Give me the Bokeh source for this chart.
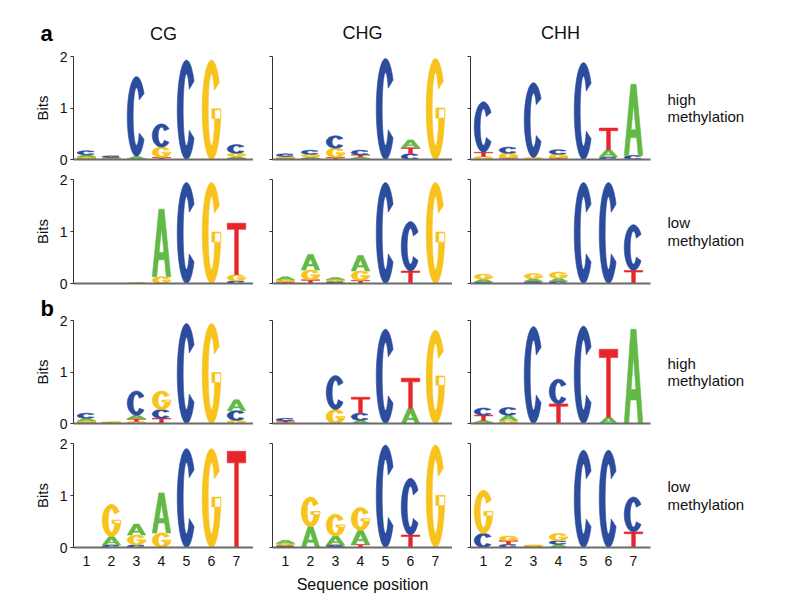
import numpy as np
from bokeh.plotting import figure
from bokeh.layouts import column, row
from bokeh.models import FixedTicker, Range1d, ColumnDataSource, LinearAxis, Title
from bokeh.embed import file_html
from bokeh.resources import INLINE

# ---------------- data (bits per base, positions 1..7) ----------------
POSITIONS = [1, 2, 3, 4, 5, 6, 7]
BASES = ["A", "C", "G", "T"]
CONTEXTS = ["CG", "CHG", "CHH"]
ROW_STATES = ["high", "low", "high", "low"]
PANEL_LETTERS = ["a", None, "b", None]

A_HIGH_CG = {"A": [.04, .01, .05, .01, 0, 0, .04],
             "C": [.08, .03, 1.55, .45, 1.93, 0, .17],
             "G": [.03, .02, 0, .20, 0, 1.93, .06],
             "T": [.02, .01, .01, .03, 0, 0, .02]}
A_HIGH_CHG = {"A": [.02, .03, .01, .03, 0, .15, 0],
              "C": [.05, .08, .24, .09, 1.96, .11, 0],
              "G": [.03, .05, .18, .02, 0, 0, 1.96],
              "T": [.01, .02, .03, .04, 0, .12, 0]}
A_HIGH_CHH = {"A": [0, .01, 0, .01, 0, .14, 1.38],
              "C": [.98, .12, 1.45, .09, 1.88, .05, .08],
              "G": [.06, .09, .04, .07, 0, 0, 0],
              "T": [.08, .02, 0, .02, 0, .42, 0]}
A_LOW_CG = {"A": [0, 0, 0, 1.30, 0, 0, 0],
            "C": [0, 0, .005, 0, 1.94, 0, .05],
            "G": [0, 0, .005, .13, 0, 1.94, .12],
            "T": [0, 0, 0, 0, 0, 0, .99]}
A_LOW_CHG = {"A": [.06, .30, .04, .30, 0, 0, 0],
             "C": [.01, 0, .03, 0, 1.94, .95, 0],
             "G": [.04, .19, .035, .18, 0, 0, 1.94],
             "T": [.02, .07, .01, .06, 0, .24, 0]}
A_LOW_CHH = {"A": [.05, 0, .05, .06, 0, 0, 0],
             "C": [.03, 0, .03, .04, 1.94, 1.94, .88],
             "G": [.10, 0, .10, .12, 0, 0, 0],
             "T": [0, 0, .01, 0, 0, 0, .25]}
B_HIGH_CG = {"A": [.05, .005, .07, 0, 0, 0, .21],
             "C": [.10, .01, .47, .17, 1.94, 0, .19],
             "G": [.03, .01, .04, .36, 0, 1.94, .06],
             "T": [.02, .005, .05, .10, 0, 0, 0]}
B_HIGH_CHG = {"A": [.01, 0, 0, .06, 0, .29, 0],
              "C": [.05, 0, .66, .14, 1.83, 0, 0],
              "G": [.01, 0, .27, 0, 0, 0, 1.81],
              "T": [.03, 0, 0, .31, 0, .59, 0]}
B_HIGH_CHH = {"A": [.04, .10, 0, 0, 0, .12, 1.83],
              "C": [.14, .15, 1.88, .48, 1.89, 0, 0],
              "G": [.02, .06, 0, 0, 0, 0, 0],
              "T": [.10, 0, 0, .38, 0, 1.32, 0]}
B_LOW_CG = {"A": [0, .16, .21, .77, 0, 0, 0],
            "C": [0, .05, .05, 0, 1.90, 0, 0],
            "G": [0, .62, .19, .28, 0, 1.90, 0],
            "T": [0, 0, 0, 0, 0, 0, 1.85]}
B_LOW_CHG = {"A": [.06, .40, .17, .27, 0, 0, 0],
             "C": [.03, 0, .03, 0, 1.97, 1.09, 0],
             "G": [.04, .57, .42, .44, 0, 0, 1.97],
             "T": [.01, 0, .02, .06, 0, .24, 0]}
B_LOW_CHH = {"A": [0, 0, 0, .06, 0, 0, 0],
             "C": [.27, .06, .02, .07, 1.87, 1.87, .67],
             "G": [.83, .09, .03, .14, 0, 0, 0],
             "T": [0, .07, 0, 0, 0, 0, .30]}

PANELS = [[A_HIGH_CG, A_HIGH_CHG, A_HIGH_CHH],
          [A_LOW_CG, A_LOW_CHG, A_LOW_CHH],
          [B_HIGH_CG, B_HIGH_CHG, B_HIGH_CHH],
          [B_LOW_CG, B_LOW_CHG, B_LOW_CHH]]

COLORS = {"A": "#62B946", "C": "#2C4C9E", "G": "#F7C31C", "T": "#E7262B"}
FONT = "Liberation Sans"

# ---------------- letter outlines in a unit box ----------------
def arc_ring(t0, t1, sx, sy, n=80):
    t = np.radians(np.linspace(t0, t1, n))
    ox = 0.5 + 0.5 * np.cos(t)
    oy = 0.5 + 0.5 * np.sin(t)
    ix = 0.5 + (0.5 - sx) * np.cos(t[::-1])
    iy = 0.5 + (0.5 - sy) * np.sin(t[::-1])
    return np.concatenate([ox, ix]), np.concatenate([oy, iy])

def rect(x0, y0, x1, y1):
    return np.array([x0, x1, x1, x0]), np.array([y0, y0, y1, y1])

SHAPES = {
    "A": [[(np.array([0, .36, .64, 1, .76, .67, .33, .24]),
            np.array([0, 1, 1, 0, 0, .25, .25, 0])),
           (np.array([.63, .5, .37]), np.array([.36, .72, .36]))]],
    "C": [[arc_ring(35, 325, 0.32, 0.14)]],
    "G": [[arc_ring(33, 360, 0.32, 0.14)], [rect(0.52, 0.41, 1.0, 0.51)]],
    "T": [[(np.array([.4, .6, .6, 1, 1, 0, 0, .4]),
            np.array([0, 0, .88, .88, 1, 1, .88, .88]))]],
}
LETTER_W = 0.74

def logo_source(data):
    xs, ys, cols = [], [], []
    for i, pos in enumerate(POSITIONS):
        stack = sorted([(data[b][i], b) for b in BASES], key=lambda t: t[0])
        y0 = 0.0
        for h, b in stack:
            if h <= 0:
                continue
            gx, gy = [], []
            for poly in SHAPES[b]:
                gx.append([list(pos - LETTER_W / 2 + LETTER_W * u) for u, v in poly])
                gy.append([list(y0 + h * v) for u, v in poly])
            xs.append(gx)
            ys.append(gy)
            cols.append(COLORS[b])
            y0 += h
    return ColumnDataSource(dict(xs=xs, ys=ys, color=cols))

# ---------------- layout ----------------
FRAME_W = 180
COL_LEFT = [73, 19, 18]
COL_RIGHT = [0, 0, 130]
ROW_TOP = [56, 10, 26, 10]
ROW_FRAME = [103, 104, 104, 104]
ROW_BOTTOM = [10, 10, 10, 52]
STATE_TICKS = [1.17, 0.83]

rows = []
for r in range(4):
    figs = []
    for c in range(3):
        fh = ROW_FRAME[r]
        p = figure(width=COL_LEFT[c] + FRAME_W + COL_RIGHT[c],
                   height=ROW_TOP[r] + fh + ROW_BOTTOM[r],
                   x_range=Range1d(0.48, 7.68), y_range=Range1d(0, 2),
                   output_backend="svg", toolbar_location=None,
                   min_border_left=COL_LEFT[c], min_border_right=COL_RIGHT[c],
                   min_border_top=ROW_TOP[r], min_border_bottom=ROW_BOTTOM[r])
        p.outline_line_color = None
        p.grid.visible = False
        p.background_fill_color = "white"

        src = logo_source(PANELS[r][c])
        p.multi_polygons(xs="xs", ys="ys", fill_color="color", line_color="color",
                         line_width=0.6, source=src)

        # y axis
        ya = p.yaxis[0]
        ya.ticker = FixedTicker(ticks=[0, 1, 2])
        ya.axis_line_color = "#333333"
        ya.axis_line_width = 1
        ya.major_tick_line_color = "#333333"
        ya.major_tick_out = 3
        ya.major_tick_in = 0
        ya.minor_tick_line_color = None
        ya.major_label_standoff = 3
        ya.major_label_text_font = FONT
        ya.major_label_text_font_size = "14px"
        ya.major_label_text_color = "#111111"
        if c == 0:
            ya.axis_label = "Bits"
            ya.axis_label_text_font = FONT
            ya.axis_label_text_font_size = "15px"
            ya.axis_label_text_font_style = "normal"
            ya.axis_label_text_color = "#111111"
            ya.axis_label_standoff = 6
        else:
            ya.major_label_overrides = {0: "", 1: "", 2: ""}

        # x axis
        xa = p.xaxis[0]
        xa.axis_line_color = "#6B6B6B"
        xa.axis_line_width = 2
        xa.minor_tick_line_color = None
        xa.major_tick_line_color = None
        if r == 3:
            xa.ticker = FixedTicker(ticks=POSITIONS)
            xa.major_label_standoff = 2
            xa.major_label_text_font = FONT
            xa.major_label_text_font_size = "14px"
            xa.major_label_text_color = "#111111"
            if c == 1:
                xa.axis_label = "Sequence position"
                xa.axis_label_text_font = FONT
                xa.axis_label_text_font_size = "16px"
                xa.axis_label_text_font_style = "normal"
                xa.axis_label_text_color = "#111111"
                xa.axis_label_standoff = 7
        else:
            xa.ticker = FixedTicker(ticks=[])

        # column headers and panel letters (titles above the frame)
        if r == 0:
            p.title.text = CONTEXTS[c]
            p.title.align = "center"
            p.title.text_font = FONT
            p.title.text_font_size = "18px"
            p.title.text_font_style = "normal"
            p.title.text_color = "#111111"
            p.title.standoff = 27
            if c == 0:
                p.add_layout(Title(text="a", align="left", offset=-33, standoff=21,
                                   text_font=FONT, text_font_size="22px",
                                   text_font_style="bold", text_color="black"), "above")
                p.title.standoff = -70
        if r == 2 and c == 0:
            p.title.text = "b"
            p.title.align = "left"
            p.title.offset = -33
            p.title.standoff = 0
            p.title.text_font = FONT
            p.title.text_font_size = "22px"
            p.title.text_font_style = "bold"
            p.title.text_color = "black"

        # methylation state on the right
        if c == 2:
            ra = LinearAxis(ticker=FixedTicker(ticks=STATE_TICKS),
                            major_label_overrides={STATE_TICKS[0]: ROW_STATES[r],
                                                   STATE_TICKS[1]: "methylation"})
            ra.axis_line_color = None
            ra.major_tick_line_color = None
            ra.minor_tick_line_color = None
            ra.major_tick_out = 0
            ra.major_tick_in = 0
            ra.major_label_standoff = 17
            ra.major_label_text_font = FONT
            ra.major_label_text_font_size = "15px"
            ra.major_label_text_color = "#111111"
            p.add_layout(ra, "right")
        figs.append(p)
    rows.append(row(*figs, spacing=0))

layout = column(*rows, spacing=0)
open("out.html", "w").write(file_html(layout, INLINE))
